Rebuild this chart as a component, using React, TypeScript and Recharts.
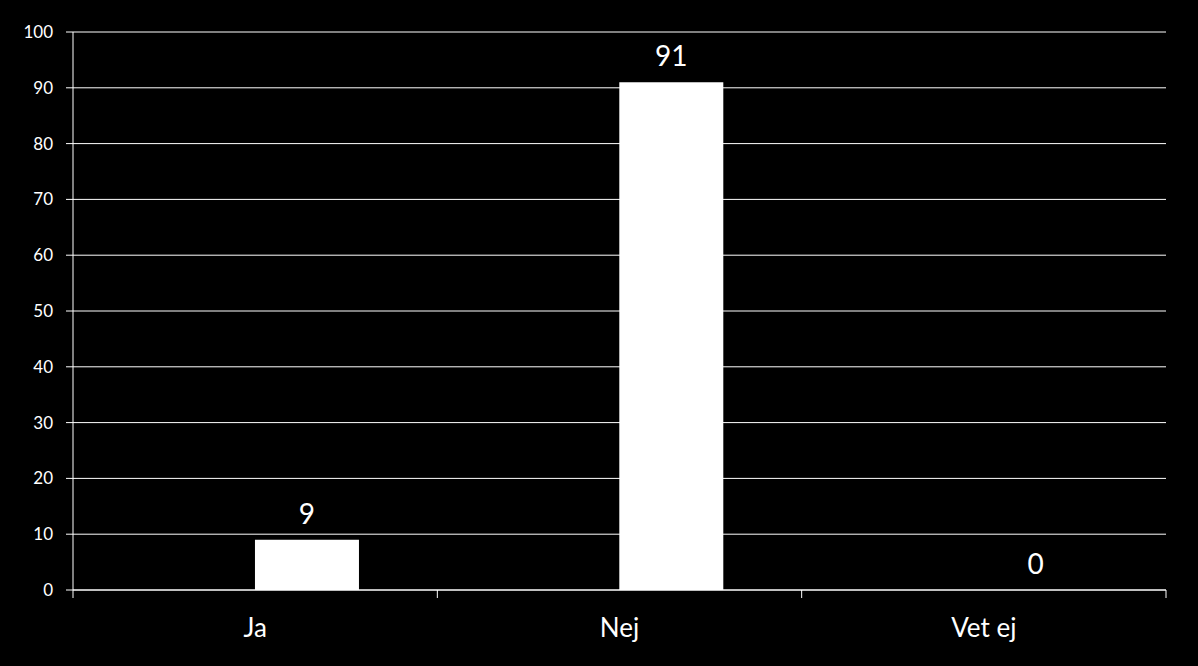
import { Bar, BarChart, CartesianGrid, LabelList, XAxis, YAxis } from "recharts";

const categories = ["Ja", "Nej", "Vet ej"];
// Excel-style: an empty first series pushes the visible bars right of each category centre
const blankSeries: (number | null)[] = [null, null, null];
const values = [9, 91, 0];
const yTicks = [0, 10, 20, 30, 40, 50, 60, 70, 80, 90, 100];

const CHART_W = 1198;
const CHART_H = 666;
const MARGIN = { top: 32, right: 32, left: 13, bottom: 26 };
const Y_AXIS_W = 60;
const X_AXIS_H = 50;
const FONT = "Lato, 'Open Sans', sans-serif";

const plotWidth = CHART_W - MARGIN.left - MARGIN.right - Y_AXIS_W;
const bandWidth = plotWidth / categories.length;
const axisY = CHART_H - MARGIN.bottom - X_AXIS_H;

const data = categories.map((name, i) => ({
  name,
  blank: blankSeries[i],
  value: values[i],
}));

/** Category label at the band centre, tick marks at band edges like Excel. */
function CategoryTick(props: any) {
  const { x, payload, index } = props;
  const left = x - bandWidth / 2;
  const right = x + bandWidth / 2;
  return (
    <g>
      <line x1={left} x2={left} y1={axisY} y2={axisY + 8} stroke="#fff" strokeWidth={1} />
      {index === categories.length - 1 ? (
        <line x1={right} x2={right} y1={axisY} y2={axisY + 8} stroke="#fff" strokeWidth={1} />
      ) : null}
      <text x={x} y={axisY + 47} textAnchor="middle" fill="#fff" fontSize={26} fontFamily={FONT}>
        {payload.value}
      </text>
    </g>
  );
}

/** Value label above the bar; also drawn for zero-height bars. */
function ValueLabel(props: any) {
  const { x, y, width, height, value } = props;
  if (value == null) return null;
  const top = Math.min(Number(y), Number(y) + Number(height || 0));
  return (
    <text
      x={Number(x) + Number(width) / 2}
      y={top - 16}
      textAnchor="middle"
      fill="#fff"
      fontSize={28}
      fontFamily={FONT}
    >
      {value}
    </text>
  );
}

export default function App() {
  return (
    <div
      style={{
        position: "absolute",
        left: 0,
        top: 0,
        width: CHART_W,
        height: CHART_H,
        background: "#000",
      }}
    >
      <BarChart
        width={CHART_W}
        height={CHART_H}
        data={data}
        margin={MARGIN}
        barCategoryGap="21.4%"
        barGap={0}
      >
        <CartesianGrid vertical={false} stroke="#fff" strokeWidth={1} />
        <XAxis
          dataKey="name"
          interval={0}
          height={X_AXIS_H}
          axisLine={{ stroke: "#fff", strokeWidth: 1 }}
          tickLine={false}
          tick={<CategoryTick />}
        />
        <YAxis
          width={Y_AXIS_W}
          domain={[0, 100]}
          ticks={yTicks}
          interval={0}
          axisLine={{ stroke: "#fff", strokeWidth: 1 }}
          tickLine={{ stroke: "#fff", strokeWidth: 1 }}
          tickSize={7}
          tickMargin={13}
          tick={{ fill: "#fff", fontSize: 17, fontFamily: FONT }}
        />
        <Bar dataKey="blank" fill="#fff" isAnimationActive={false} />
        <Bar
          dataKey="value"
          fill="#fff"
          minPointSize={(v: number) => (v === 0 ? 0.01 : 0)}
          isAnimationActive={false}
        >
          <LabelList dataKey="value" content={<ValueLabel />} />
        </Bar>
      </BarChart>
    </div>
  );
}
